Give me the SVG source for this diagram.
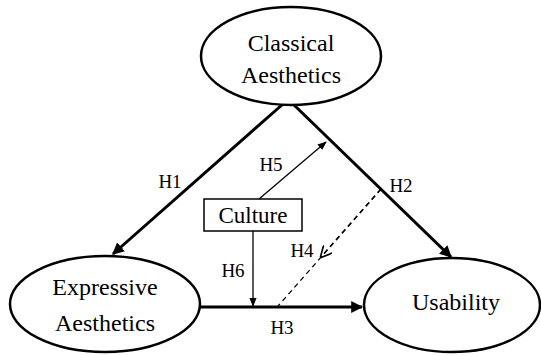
<svg xmlns="http://www.w3.org/2000/svg" width="541" height="355" viewBox="0 0 541 355">
<defs>
<style>
.node{fill:#fff;stroke:#000;stroke-width:2.5}
.thick{stroke:#000;stroke-width:3;fill:none}
.thin{stroke:#000;stroke-width:1.3;fill:none}
</style>
<marker id="ab" viewBox="0 0 10 10" refX="9" refY="5" markerWidth="4" markerHeight="4" orient="auto" markerUnits="strokeWidth"><path d="M0,0 L10,5 L0,10 z" fill="#000"/></marker>
<marker id="as" viewBox="0 0 10 10" refX="9" refY="5" markerWidth="7" markerHeight="7" orient="auto" markerUnits="strokeWidth"><path d="M0,1 L10,5 L0,9 z" fill="#000"/></marker>
<marker id="ao" viewBox="0 0 10 10" refX="9" refY="5" markerWidth="9" markerHeight="9" orient="auto" markerUnits="strokeWidth"><path d="M0,0 L10,5 L0,10" fill="none" stroke="#000" stroke-width="1.4"/></marker>
</defs>
<g id="connectors">
<line class="thick" x1="283" y1="104" x2="113" y2="254" marker-end="url(#ab)"/>
<line class="thick" x1="293" y1="104" x2="451" y2="257" marker-end="url(#ab)"/>
<line class="thick" x1="200" y1="307" x2="362" y2="307" marker-end="url(#ab)"/>
<line class="thin" x1="259" y1="199" x2="326" y2="142" marker-end="url(#as)"/>
<line class="thin" x1="253" y1="231" x2="253" y2="306" marker-end="url(#as)"/>
<line class="thin" x1="381" y1="189" x2="278" y2="306" stroke-dasharray="5,4"/>
<line class="thin" x1="381" y1="189" x2="321" y2="257" stroke-dasharray="5,4" marker-end="url(#ao)"/>
<text font-family="Liberation Serif" font-size="19" text-anchor="middle" x="170" y="188">H1</text>
<text font-family="Liberation Serif" font-size="19" text-anchor="middle" x="401" y="192">H2</text>
<text font-family="Liberation Serif" font-size="19" text-anchor="middle" x="282" y="334">H3</text>
<text font-family="Liberation Serif" font-size="19" text-anchor="middle" x="302" y="257">H4</text>
<text font-family="Liberation Serif" font-size="19" text-anchor="middle" x="271" y="171">H5</text>
<text font-family="Liberation Serif" font-size="19" text-anchor="middle" x="233" y="277">H6</text>
</g>
<g id="classical">
<ellipse class="node" cx="291" cy="56" rx="90" ry="49"/>
<text font-family="Liberation Serif" font-size="24" text-anchor="middle" x="291" y="51">Classical</text>
<text font-family="Liberation Serif" font-size="24" text-anchor="middle" x="291" y="83">Aesthetics</text>
</g>
<g id="expressive">
<ellipse class="node" cx="105" cy="304" rx="95" ry="48"/>
<text font-family="Liberation Serif" font-size="24" text-anchor="middle" x="105" y="295">Expressive</text>
<text font-family="Liberation Serif" font-size="24" text-anchor="middle" x="105" y="331">Aesthetics</text>
</g>
<g id="usability">
<ellipse class="node" cx="452" cy="305" rx="88" ry="47"/>
<text font-family="Liberation Serif" font-size="24" text-anchor="middle" x="456" y="310">Usability</text>
</g>
<g id="culture">
<rect x="204" y="199" width="98" height="32" fill="#fff" stroke="#000" stroke-width="1.5"/>
<text font-family="Liberation Serif" font-size="23" text-anchor="middle" x="253" y="223">Culture</text>
</g>
</svg>
